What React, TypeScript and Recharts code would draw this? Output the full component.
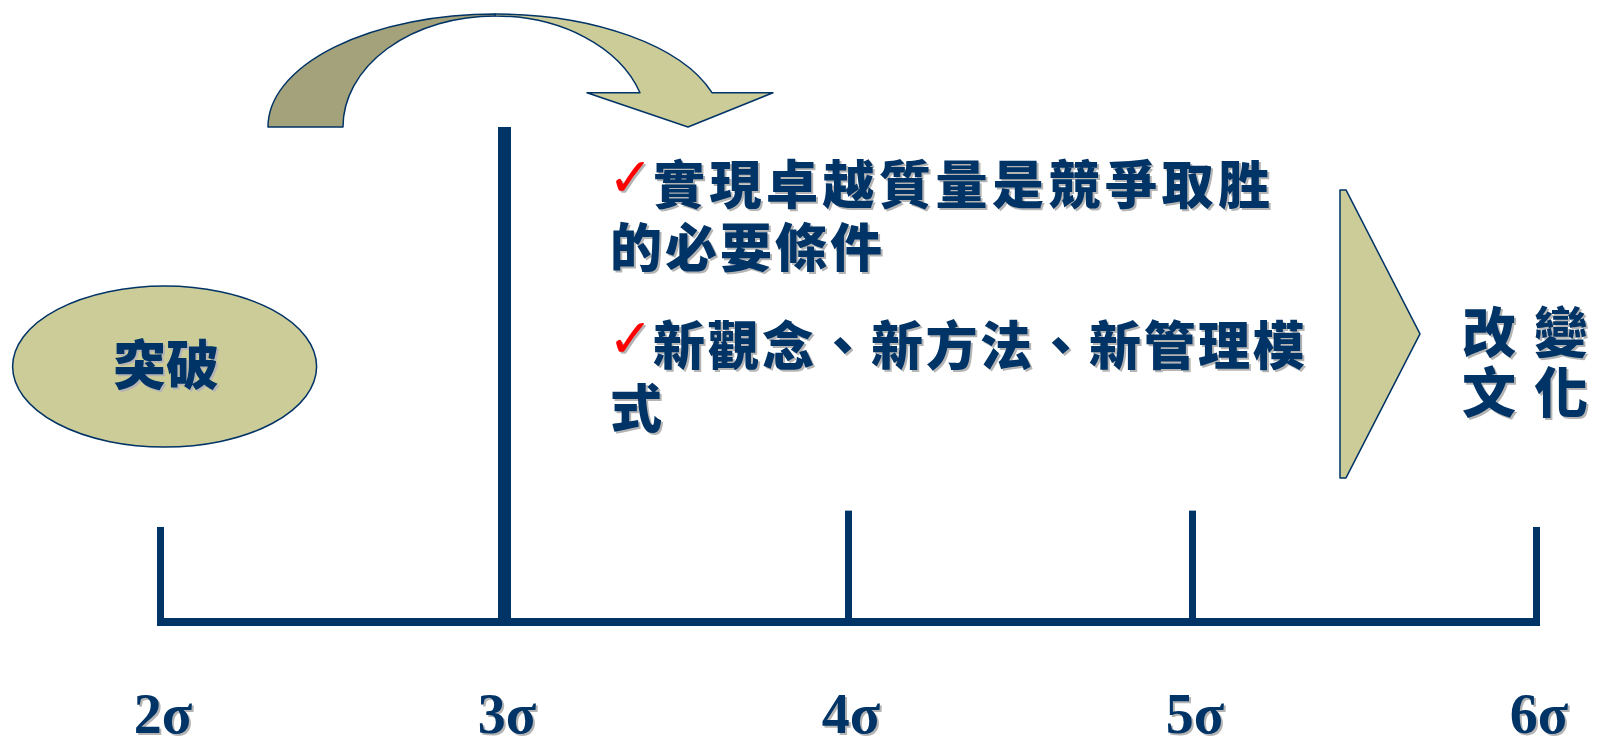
import React from 'react';
import { ComposedChart, Bar, XAxis, YAxis, ReferenceDot } from 'recharts';

// ---------- data ----------
const levels = [2, 3, 4, 5, 6];
const levelLabels = ['2σ', '3σ', '4σ', '5σ', '6σ'];
const tickHeights = [19.2, 100, 22.5, 22.5, 19.2];
const breakthroughLevel = 3;

const breakthroughLabel = '突破';
const bulletGroups = [
  ['實現卓越質量是競爭取胜', '的必要條件'],
  ['新觀念、新方法、新管理模', '式'],
];
const cultureLines = [['改', '變'], ['文', '化']];

// annotation anchors, in chart data units (sigma level, height units)
const ellipseAnchor = { x: 2.0134, y: 51.6 };
const arrowAnchor = { x: 2.9738, y: 100 };
const bulletAnchor = { x: 3.311, y: 84.5 };
const chevronAnchor = { x: 5.4302, y: 58.2 };
const cultureAnchor = { x: 5.7849, y: 54.3 };

const data = levels.map((level, i) => ({ level, label: levelLabels[i], height: tickHeights[i] }));

// ---------- styles ----------
const NAVY = '#003366';
const KHAKI = '#CCCC99';
const KHAKI_DARK = '#A3A27A';
const SHADOW = 'drop-shadow(2.5px 2.5px 0px #b4b4b4)';
const CJK = "'Noto Sans CJK TC', 'Noto Sans CJK SC', sans-serif";
const SERIF = "'Liberation Serif', 'Times New Roman', serif";

const SigmaTick = (props: any) => {
  const { x, y, payload } = props;
  const idx = levels.indexOf(payload.value);
  return (
    <text
      x={x + 3}
      y={y + 111}
      textAnchor="middle"
      fontFamily={SERIF}
      fontWeight={700}
      fontSize={56}
      fill={NAVY}
      style={{ filter: SHADOW }}
    >
      {levelLabels[idx]}
    </text>
  );
};

const TickBar = (props: any) => {
  const { x, y, width, height, payload } = props;
  const lvl = payload?.level ?? props.level;
  const w = lvl === breakthroughLevel ? 13 : 7;
  const cx = x + width / 2;
  return <rect x={cx - w / 2} y={y} width={w} height={height + 4} fill={NAVY} />;
};

const BreakthroughEllipse = ({ cx, cy }: any) => (
  <g>
    <ellipse cx={cx} cy={cy} rx={152} ry={80.5} fill={KHAKI} stroke={NAVY} strokeWidth={1.5} />
    <text
      x={cx + 1.5}
      y={cy + 18}
      textAnchor="middle"
      fontFamily={CJK}
      fontWeight={900}
      fontSize={53}
      fill={NAVY}
      style={{ filter: SHADOW }}
    >
      {breakthroughLabel}
    </text>
  </g>
);

const CurvedArrow = ({ cx, cy }: any) => {
  const dark = `M ${cx - 227} ${cy} A 227 113 0 0 1 ${cx} ${cy - 113} L ${cx} ${cy - 111} A 152 111 0 0 0 ${cx - 152} ${cy} Z`;
  const light = `M ${cx} ${cy - 113} A 227 113 0 0 1 ${cx + 217} ${cy - 34.3} L ${cx + 278} ${cy - 34.3} L ${cx + 193} ${cy} L ${cx + 92} ${cy - 34.3} L ${cx + 145} ${cy - 34.3} A 152 111 0 0 0 ${cx} ${cy - 111} Z`;
  return (
    <g>
      <path d={dark} fill={KHAKI_DARK} stroke={NAVY} strokeWidth={1.5} strokeLinejoin="round" />
      <path d={light} fill={KHAKI} stroke={NAVY} strokeWidth={1.5} strokeLinejoin="round" />
    </g>
  );
};

const Chevron = ({ cx, cy }: any) => {
  const d = `M ${cx} ${cy - 144} L ${cx + 6} ${cy - 144} L ${cx + 80} ${cy} L ${cx + 6} ${cy + 144} L ${cx} ${cy + 144} Z`;
  return <path d={d} fill={KHAKI} stroke={NAVY} strokeWidth={1.5} strokeLinejoin="round" />;
};

const bulletSpacing = [[4.5, 3], [2.5, 0]];

const BulletText = ({ cx, cy }: any) => {
  const groupOffsets = [0, 161];
  const lineGap = 63;
  return (
    <g style={{ filter: SHADOW }}>
      {bulletGroups.map((lines, g) => (
        <g key={g}>
          <text x={cx - 3} y={cy + groupOffsets[g] - 8} fontFamily="'DejaVu Sans', sans-serif" fontSize={54} fill="#FF0000">
            ✓
          </text>
          {lines.map((line, i) => (
            <text
              key={i}
              x={i === 0 ? cx + 42 : cx - 1}
              y={cy + groupOffsets[g] + i * lineGap}
              fontFamily={CJK}
              fontWeight={900}
              fontSize={52}
              fill={NAVY}
              style={{ letterSpacing: `${bulletSpacing[g][i]}px` }}
            >
              {line}
            </text>
          ))}
        </g>
      ))}
    </g>
  );
};

const CultureText = ({ cx, cy }: any) => (
  <g style={{ filter: SHADOW }}>
    {cultureLines.map((chars, i) => (
      <text key={i} x={cx} y={cy + i * 60} fontFamily={CJK} fontWeight={900} fontSize={54} fill={NAVY}>
        <tspan>{chars[0]}</tspan>
        <tspan dx={18}>{chars[1]}</tspan>
      </text>
    ))}
  </g>
);

export default function App() {
  return (
    <div style={{ position: 'absolute', left: 0, top: 0, background: '#ffffff' }}>
      <ComposedChart
        width={1603}
        height={738}
        data={data}
        margin={{ top: 127, right: 67, bottom: 0, left: 160 }}
      >
        <XAxis
          dataKey="level"
          type="number"
          domain={[2, 6]}
          ticks={levels}
          height={116}
          axisLine={{ stroke: NAVY, strokeWidth: 8 }}
          tickLine={false}
          tickSize={0}
          tickMargin={0}
          tick={<SigmaTick />}
          interval={0}
        />
        <YAxis hide type="number" domain={[0, 100]} />
        <Bar dataKey="height" barSize={7} fill={NAVY} shape={<TickBar />} isAnimationActive={false} />
        <ReferenceDot x={arrowAnchor.x} y={arrowAnchor.y} r={1} ifOverflow="visible" shape={(p: any) => <CurvedArrow cx={p.cx} cy={p.cy} />} />
        <ReferenceDot x={ellipseAnchor.x} y={ellipseAnchor.y} r={1} ifOverflow="visible" shape={(p: any) => <BreakthroughEllipse cx={p.cx} cy={p.cy} />} />
        <ReferenceDot x={chevronAnchor.x} y={chevronAnchor.y} r={1} ifOverflow="visible" shape={(p: any) => <Chevron cx={p.cx} cy={p.cy} />} />
        <ReferenceDot x={bulletAnchor.x} y={bulletAnchor.y} r={1} ifOverflow="visible" shape={(p: any) => <BulletText cx={p.cx} cy={p.cy} />} />
        <ReferenceDot x={cultureAnchor.x} y={cultureAnchor.y} r={1} ifOverflow="visible" shape={(p: any) => <CultureText cx={p.cx} cy={p.cy} />} />
      </ComposedChart>
    </div>
  );
}
